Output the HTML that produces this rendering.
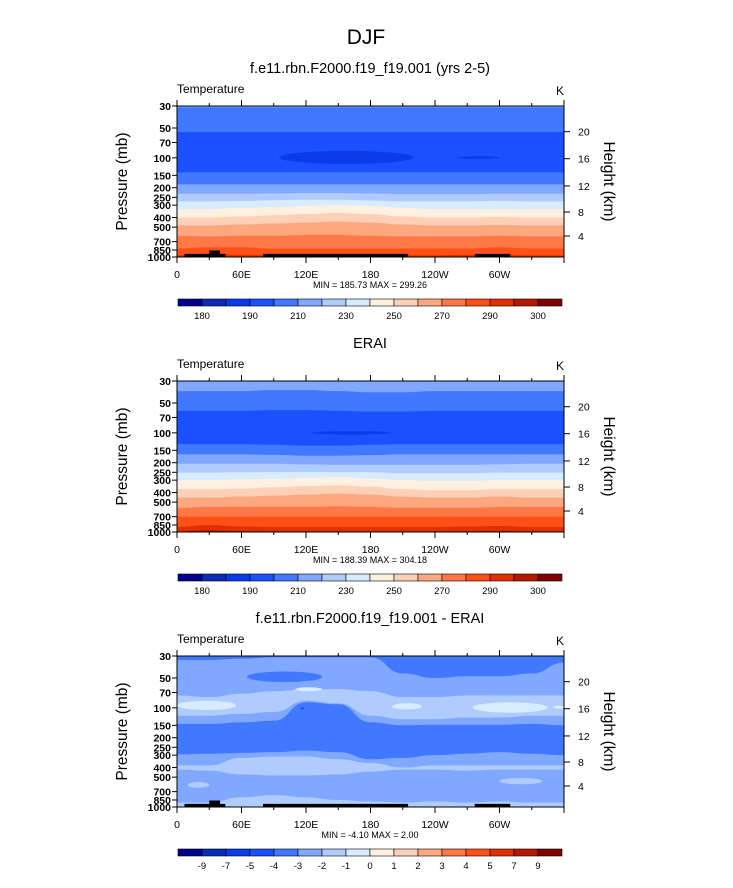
<!DOCTYPE html>
<html><head><meta charset="utf-8"><style>
html,body{margin:0;padding:0;background:#fff;}
svg{display:block;font-family:"Liberation Sans",Arial,sans-serif;}
</style></head><body>
<svg id="fig" width="733" height="888" viewBox="0 0 733 888">
<text x="366" y="44" font-size="21" text-anchor="middle">DJF</text>
</svg>
<script>
// ---- data ----
const palette = ["#00008c","#0a2cb4","#0a3ce8","#1a50ff","#4078ff","#80a8ff","#b0ccff","#d8ecff","#fff0e0","#ffd0b8","#ffa880","#ff7848","#ff5018","#e03000","#b41800","#800000"];
const cbLabelsT = ["180","","190","","210","","230","","250","","270","","290","","300"];
const cbLabelsD = ["-9","-7","-5","-4","-3","-2","-1","0","1","2","3","4","5","7","9"];
const pressTicks = [30,50,70,100,150,200,250,300,400,500,700,850,1000];
const heightTicks = [4,8,12,16,20];
const heightPress = [614,352,192,102,54.5];
const lonTicks = ["0","60E","120E","180","120W","60W"];
const lons = [0,30,60,90,120,150,180,210,240,270,300,330,360];
// panel 1 (model) : band lower boundaries (pressure) and colour index
const p1Colors = [5,4,3,4,5,6,7,8,9,10,11,12,13];
const p1Bounds = [
 [31,31,31,31,31,31,31,31,31,31,31,31,31],
 [55,55,55,55,55,55,55,55,55,55,55,55,55],
 [140,140,140,140,140,140,140,140,140,140,140,140,140],
 [185,185,185,185,185,185,185,185,185,185,185,185,185],
 [230,230,230,228,226,226,228,232,232,232,230,230,230],
 [275,275,272,268,265,265,270,275,275,275,272,275,275],
 [330,330,320,315,305,300,305,320,330,330,330,330,330],
 [400,400,390,380,370,360,370,390,400,400,395,400,400],
 [480,480,470,460,450,440,450,470,480,480,475,480,480],
 [610,620,610,610,600,600,610,620,620,620,610,620,620],
 [820,800,800,820,820,820,820,820,820,820,800,820,820],
 [960,930,950,960,960,960,960,960,960,950,950,960,960]];
// panel 2 (ERAI)
const p2Colors = [5,4,3,4,5,6,7,8,9,10,11,12,13,14];
const p2Bounds = [
 [38,38,38,37,37,38,39,39,38,38,38,38,38],
 [60,60,60,59,59,60,61,61,60,60,60,60,60],
 [130,130,130,132,135,135,132,130,130,130,130,130,130],
 [165,165,165,167,170,170,168,165,165,165,165,165,165],
 [205,205,205,205,208,210,210,210,210,210,208,205,205],
 [252,252,250,248,248,248,250,255,255,255,252,252,252],
 [300,300,295,290,285,280,290,300,305,305,300,300,300],
 [370,370,365,355,345,340,350,370,380,380,370,370,370],
 [450,450,440,430,420,410,420,440,450,450,440,450,450],
 [570,560,560,560,560,550,560,570,570,570,560,560,560],
 [700,700,700,700,700,700,700,700,700,700,700,700,700],
 [890,850,880,890,890,890,890,890,890,880,870,890,890],
 [990,960,985,990,990,990,990,990,990,985,980,990,990]];
// panel 3 (difference)
const p3Colors = [4,5,6,5,4,5,6,5,6];
const p3Bounds = [
 [33,33,32,31,31,31,31,45,50,48,48,45,35],
 [75,78,72,68,65,65,68,78,78,75,75,75,75],
 [120,120,115,110,85,90,120,130,130,125,125,120,120],
 [145,145,140,135,88,92,140,150,148,148,148,145,150],
 [295,290,285,280,270,280,330,320,300,290,280,290,300],
 [380,380,320,310,310,330,360,400,380,380,380,380,380],
 [420,430,470,480,480,470,440,420,420,430,420,420,420],
 [900,900,800,760,800,850,880,900,880,900,880,900,900]];
// patches: lon0, lon1, p0, p1, colour index
const p3Patches = [[0,55,85,105,7],[110,135,62,68,7],[200,228,90,104,7],[275,345,88,112,7],[350,360,95,102,7],
 [65,135,43,55,4],[300,340,510,590,6],[10,30,560,640,6],[115,118,98,104,3]];
const p1Patches = [[95,220,85,115,2],[260,300,96,103,2]];
const p2Patches = [[125,200,96,104,2]];
const topoSegs = [[7,45,930],[30,40,860],[80,215,930],[277,310,930]];

// ---- layout ----
const X0=177, X1=564, PH=151;
const NS="http://www.w3.org/2000/svg";
const svg=document.getElementById('fig');
function el(tag,attrs,parent){const e=document.createElementNS(NS,tag);for(const k in attrs)e.setAttribute(k,attrs[k]);(parent||svg).appendChild(e);return e;}
function xs(lon){return X0+(lon/360)*(X1-X0);}
function ys(top,p){return top+Math.log(p/30)/Math.log(1000/30)*PH;}

function drawBands(g,top,colors,bounds){
  let r=el('rect',{x:X0,y:top,width:X1-X0,height:PH,fill:palette[colors[0]]},g);
  
  
  for(let i=0;i<bounds.length;i++){
    const b=bounds[i];
    let d='M'+xs(lons[0])+','+ys(top,b[0]);
    for(let j=1;j<lons.length;j++){
      const xa=xs(lons[j-1]),xb=xs(lons[j]),ya=ys(top,b[j-1]),yb=ys(top,b[j]);
      const xm=(xa+xb)/2;
      d+=' C'+xm+','+ya+' '+xm+','+yb+' '+xb+','+yb;
    }
    d+=' L'+X1+','+(top+PH)+' L'+X0+','+(top+PH)+' Z';
    const p=el('path',{d:d,fill:palette[colors[i+1]]},g);
    
    
  }
}
function drawPatches(g,top,patches){
  patches.forEach(pt=>{
    const cx=(xs(pt[0])+xs(pt[1]))/2, rx=(xs(pt[1])-xs(pt[0]))/2;
    const ya=ys(top,pt[2]), yb=ys(top,pt[3]);
    const e=el('ellipse',{cx:cx,cy:(ya+yb)/2,rx:rx,ry:(yb-ya)/2,fill:palette[pt[4]]},g);
    
    
  });
}
function drawTopo(g,top){
  topoSegs.forEach(s=>{
    const r=el('rect',{x:xs(s[0]),y:ys(top,s[2]),width:xs(s[1])-xs(s[0]),height:top+PH-ys(top,s[2]),fill:'#000'},g);
    
    
  });
}
function drawAxes(g,top,minmax){
  const f=el('rect',{x:X0,y:top,width:X1-X0,height:PH,fill:'none',stroke:'#000','stroke-width':1},g);
  
  
  pressTicks.forEach(p=>{
    const y=ys(top,p);
    el('line',{x1:X0-5,x2:X0,y1:y,y2:y,stroke:'#000'},g);
    const t=el('text',{x:X0-6,y:y+4,'font-size':10.5,'font-weight':'bold','text-anchor':'end'},g);
    t.textContent=p;
    
    
  });
  heightPress.forEach((p,i)=>{
    const y=ys(top,p);
    el('line',{x1:X1,x2:X1+6,y1:y,y2:y,stroke:'#000'},g);
    const t=el('text',{x:X1+14,y:y+4,'font-size':10.5},g);
    t.textContent=heightTicks[i];
    
    
  });
  for(let lon=0;lon<=360;lon+=30){
    const x=xs(lon), L=(lon%60===0)?6:3;
    el('line',{x1:x,x2:x,y1:top-L,y2:top,stroke:'#000'},g);
    el('line',{x1:x,x2:x,y1:top+PH,y2:top+PH+L,stroke:'#000'},g);
  }
  lonTicks.forEach((s,i)=>{
    const t=el('text',{x:xs(i*60),y:top+PH+21,'font-size':10.5,'text-anchor':'middle'},g);
    t.textContent=s;
    
    
  });
  const mm=el('text',{x:370,y:top+PH+31,'font-size':9,'text-anchor':'middle'},g);
  mm.textContent=minmax;
  
  
  const tl=el('text',{x:177,y:top-13,'font-size':12},g);
  tl.textContent='Temperature';
  
  
  const k=el('text',{x:560,y:top-11,'font-size':12,'text-anchor':'middle'},g);
  k.textContent='K';
  
  
  const yl=el('text',{x:0,y:0,'font-size':15.5,'text-anchor':'middle',transform:'translate(127,'+(top+PH/2)+') rotate(-90)'},g);
  yl.textContent='Pressure (mb)';
  
  
  const yr=el('text',{x:0,y:0,'font-size':15.5,'text-anchor':'middle',transform:'translate(604,'+(top+PH/2)+') rotate(90)'},g);
  yr.textContent='Height (km)';
  
  
}
function drawColorbar(g,y,labels){
  const x0=178,x1=562,w=(x1-x0)/16;
  for(let i=0;i<16;i++){
    const r=el('rect',{x:x0+i*w,y:y,width:w,height:7,fill:palette[i],stroke:'#000','stroke-width':0.6},g);
    
    
  }
  labels.forEach((s,i)=>{
    if(!s)return;
    const t=el('text',{x:x0+(i+1)*w,y:y+20,'font-size':9.5,'text-anchor':'middle'},g);
    t.textContent=s;
    
    
  });
}
function panel(name,top,title,colors,bounds,patches,topo,minmax,cbLabels){
  const g=el('g',{});
  
  
  const ti=el('text',{x:370,y:top-33,'font-size':14.5,'text-anchor':'middle'},g);
  ti.textContent=title;
  
  
  const cp=el('clipPath',{id:name+'-clip'},g);
  el('rect',{x:X0,y:top,width:X1-X0,height:PH},cp);
  const dg=el('g',{'clip-path':'url(#'+name+'-clip)'},g);
  drawBands(dg,top,colors,bounds);
  drawPatches(dg,top,patches);
  if(topo)drawTopo(dg,top);
  drawAxes(g,top,minmax);
  drawColorbar(g,top+PH+42,cbLabels);
}
panel('model-panel',106,'f.e11.rbn.F2000.f19_f19.001 (yrs 2-5)',p1Colors,p1Bounds,p1Patches,true,'MIN = 185.73  MAX = 299.26',cbLabelsT);
panel('erai-panel',381,'ERAI',p2Colors,p2Bounds,p2Patches,false,'MIN = 188.39  MAX = 304.18',cbLabelsT);
panel('difference-panel',656,'f.e11.rbn.F2000.f19_f19.001 - ERAI',p3Colors,p3Bounds,p3Patches,true,'MIN =  -4.10  MAX =   2.00',cbLabelsD);
</script>
</body></html>
